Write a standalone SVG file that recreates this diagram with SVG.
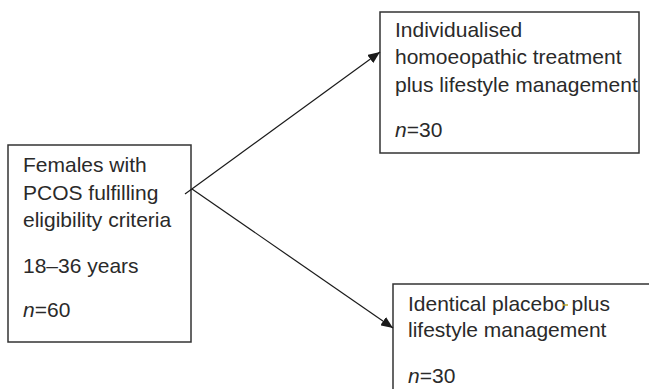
<svg xmlns="http://www.w3.org/2000/svg" width="649" height="389" viewBox="0 0 649 389">
<defs>
<marker id="ah" viewBox="0 0 12 10" refX="12" refY="5" markerWidth="12" markerHeight="10" markerUnits="userSpaceOnUse" orient="auto">
<path d="M0,0 L12,5 L0,10 Z" fill="#1a1a1a"/>
</marker>
</defs>
<style>
.box{fill:#fff;stroke:#333;stroke-width:1.5}
.t{font-family:"Liberation Sans",Arial,sans-serif;font-size:21px;fill:#2a2a2a}
.c{stroke:#1a1a1a;stroke-width:1.2;fill:none}
</style>
<rect width="649" height="389" fill="#fff"/>
<g id="source">
<rect class="box" x="8" y="145" width="183" height="197"/>
<text class="t" x="23" y="172">Females with</text>
<text class="t" x="23" y="200">PCOS fulfilling</text>
<text class="t" x="23" y="227">eligibility criteria</text>
<text class="t" x="23" y="273">18–36 years</text>
<text class="t" x="23" y="317"><tspan font-style="italic">n</tspan>=60</text>
</g>
<g id="treatment">
<rect class="box" x="380" y="12" width="259" height="141"/>
<text class="t" x="395" y="37">Individualised</text>
<text class="t" x="395" y="64">homoeopathic treatment</text>
<text class="t" x="395" y="92">plus lifestyle management</text>
<text class="t" x="395" y="137"><tspan font-style="italic">n</tspan>=30</text>
</g>
<g id="placebo">
<rect class="box" x="393" y="284" width="270" height="120"/>
<text class="t" x="408" y="311">Identical placebo plus</text>
<text class="t" x="408" y="337">lifestyle management</text>
<text class="t" x="408" y="383"><tspan font-style="italic">n</tspan>=30</text>
<line x1="563" y1="305" x2="568" y2="305" stroke="#b8a62a" stroke-width="1.5"/>
</g>
<g id="connectors">
<line class="c" x1="185" y1="194" x2="380" y2="52" marker-end="url(#ah)"/>
<line class="c" x1="192" y1="189" x2="393" y2="328" marker-end="url(#ah)"/>
</g>
</svg>
